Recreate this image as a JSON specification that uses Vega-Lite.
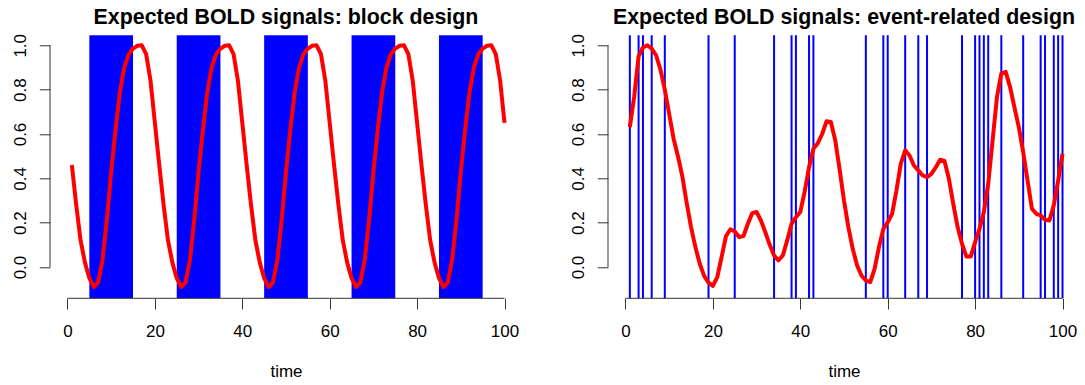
{
  "$schema": "https://vega.github.io/schema/vega-lite/v6.json",
  "background": "white",
  "padding": {"left": 11, "top": 6.3, "right": 0, "bottom": 0},
  "datasets": {
    "blocks": [
      {"start": 5, "end": 15}, {"start": 25, "end": 35}, {"start": 45, "end": 55}, {"start": 65, "end": 75}, {"start": 85, "end": 95}
    ],
    "blocksignal": [
      {"t":1,"y":0.46},{"t":2,"y":0.28},{"t":3,"y":0.12},{"t":4,"y":0.02},{"t":5,"y":-0.05},{"t":6,"y":-0.09},{"t":7,"y":-0.07},{"t":8,"y":0.03},{"t":9,"y":0.21},{"t":10,"y":0.43},
      {"t":11,"y":0.62},{"t":12,"y":0.79},{"t":13,"y":0.9},{"t":14,"y":0.96},{"t":15,"y":0.985},{"t":16,"y":0.998},{"t":17,"y":1.0},{"t":18,"y":0.96},{"t":19,"y":0.84},{"t":20,"y":0.65},
      {"t":21,"y":0.46},{"t":22,"y":0.28},{"t":23,"y":0.12},{"t":24,"y":0.02},{"t":25,"y":-0.05},{"t":26,"y":-0.09},{"t":27,"y":-0.07},{"t":28,"y":0.03},{"t":29,"y":0.21},{"t":30,"y":0.43},
      {"t":31,"y":0.62},{"t":32,"y":0.79},{"t":33,"y":0.9},{"t":34,"y":0.96},{"t":35,"y":0.985},{"t":36,"y":0.998},{"t":37,"y":1.0},{"t":38,"y":0.96},{"t":39,"y":0.84},{"t":40,"y":0.65},
      {"t":41,"y":0.46},{"t":42,"y":0.28},{"t":43,"y":0.12},{"t":44,"y":0.02},{"t":45,"y":-0.05},{"t":46,"y":-0.09},{"t":47,"y":-0.07},{"t":48,"y":0.03},{"t":49,"y":0.21},{"t":50,"y":0.43},
      {"t":51,"y":0.62},{"t":52,"y":0.79},{"t":53,"y":0.9},{"t":54,"y":0.96},{"t":55,"y":0.985},{"t":56,"y":0.998},{"t":57,"y":1.0},{"t":58,"y":0.96},{"t":59,"y":0.84},{"t":60,"y":0.65},
      {"t":61,"y":0.46},{"t":62,"y":0.28},{"t":63,"y":0.12},{"t":64,"y":0.02},{"t":65,"y":-0.05},{"t":66,"y":-0.09},{"t":67,"y":-0.07},{"t":68,"y":0.03},{"t":69,"y":0.21},{"t":70,"y":0.43},
      {"t":71,"y":0.62},{"t":72,"y":0.79},{"t":73,"y":0.9},{"t":74,"y":0.96},{"t":75,"y":0.985},{"t":76,"y":0.998},{"t":77,"y":1.0},{"t":78,"y":0.96},{"t":79,"y":0.84},{"t":80,"y":0.65},
      {"t":81,"y":0.46},{"t":82,"y":0.28},{"t":83,"y":0.12},{"t":84,"y":0.02},{"t":85,"y":-0.05},{"t":86,"y":-0.09},{"t":87,"y":-0.07},{"t":88,"y":0.03},{"t":89,"y":0.21},{"t":90,"y":0.43},
      {"t":91,"y":0.62},{"t":92,"y":0.79},{"t":93,"y":0.9},{"t":94,"y":0.96},{"t":95,"y":0.985},{"t":96,"y":0.998},{"t":97,"y":1.0},{"t":98,"y":0.96},{"t":99,"y":0.84},{"t":100,"y":0.65}
    ],
    "events": [
      {"t":1},{"t":3},{"t":4},{"t":6},{"t":9},{"t":19},{"t":25},{"t":34},{"t":38},{"t":39},{"t":42},{"t":43},{"t":55},{"t":59},{"t":60},
      {"t":64},{"t":67},{"t":69},{"t":77},{"t":80},{"t":81},{"t":82},{"t":83},{"t":86},{"t":91},{"t":95},{"t":96},{"t":98},{"t":99},{"t":100}
    ],
    "eventsignal": [
      {"t":1,"y":0.631},{"t":2,"y":0.77},{"t":3,"y":0.95},{"t":4,"y":0.99},{"t":5,"y":1.0},{"t":6,"y":0.985},{"t":7,"y":0.955},{"t":8,"y":0.89},{"t":9,"y":0.8},{"t":10,"y":0.69},
      {"t":11,"y":0.58},{"t":12,"y":0.5},{"t":13,"y":0.41},{"t":14,"y":0.29},{"t":15,"y":0.18},{"t":16,"y":0.09},{"t":17,"y":0.015},{"t":18,"y":-0.04},{"t":19,"y":-0.07},{"t":20,"y":-0.085},
      {"t":21,"y":-0.045},{"t":22,"y":0.045},{"t":23,"y":0.14},{"t":24,"y":0.17},{"t":25,"y":0.16},{"t":26,"y":0.135},{"t":27,"y":0.14},{"t":28,"y":0.195},{"t":29,"y":0.243},{"t":30,"y":0.248},
      {"t":31,"y":0.21},{"t":32,"y":0.157},{"t":33,"y":0.1},{"t":34,"y":0.052},{"t":35,"y":0.03},{"t":36,"y":0.052},{"t":37,"y":0.12},{"t":38,"y":0.195},{"t":39,"y":0.225},{"t":40,"y":0.248},
      {"t":41,"y":0.34},{"t":42,"y":0.45},{"t":43,"y":0.533},{"t":44,"y":0.558},{"t":45,"y":0.6},{"t":46,"y":0.657},{"t":47,"y":0.654},{"t":48,"y":0.571},{"t":49,"y":0.44},{"t":50,"y":0.3},
      {"t":51,"y":0.18},{"t":52,"y":0.082},{"t":53,"y":0.007},{"t":54,"y":-0.038},{"t":55,"y":-0.061},{"t":56,"y":-0.068},{"t":57,"y":-0.008},{"t":58,"y":0.09},{"t":59,"y":0.172},{"t":60,"y":0.202},
      {"t":61,"y":0.24},{"t":62,"y":0.345},{"t":63,"y":0.466},{"t":64,"y":0.526},{"t":65,"y":0.503},{"t":66,"y":0.458},{"t":67,"y":0.436},{"t":68,"y":0.413},{"t":69,"y":0.405},{"t":70,"y":0.42},
      {"t":71,"y":0.45},{"t":72,"y":0.484},{"t":73,"y":0.478},{"t":74,"y":0.398},{"t":75,"y":0.285},{"t":76,"y":0.18},{"t":77,"y":0.105},{"t":78,"y":0.047},{"t":79,"y":0.047},{"t":80,"y":0.112},
      {"t":81,"y":0.172},{"t":82,"y":0.248},{"t":83,"y":0.375},{"t":84,"y":0.571},{"t":85,"y":0.767},{"t":86,"y":0.872},{"t":87,"y":0.88},{"t":88,"y":0.812},{"t":89,"y":0.72},{"t":90,"y":0.631},
      {"t":91,"y":0.518},{"t":92,"y":0.39},{"t":93,"y":0.263},{"t":94,"y":0.24},{"t":95,"y":0.233},{"t":96,"y":0.213},{"t":97,"y":0.21},{"t":98,"y":0.278},{"t":99,"y":0.39},{"t":100,"y":0.51}
    ],
    "one": [{}]
  },
  "hconcat": [
    {
      "width": 472,
      "height": 263,
      "title": "Expected BOLD signals: block design",
      "layer": [
        {
          "data": {"name": "blocks"},
          "mark": {"type": "rect", "color": "#0000FF"},
          "encoding": {
            "x": {"field": "start", "type": "quantitative", "title": "time", "scale": {"domain": [-4, 104], "nice": false, "zero": false}, "axis": {"values": [0, 20, 40, 60, 80, 100]}},
            "x2": {"field": "end"},
            "y": {"datum": 1.045, "type": "quantitative", "title": null, "scale": {"domain": [-0.141, 1.045], "nice": false, "zero": false}, "axis": {"values": [0, 0.2, 0.4, 0.6, 0.8, 1.0], "format": ".1f"}},
            "y2": {"datum": -0.141}
          }
        },
        {
          "data": {"name": "blocksignal"},
          "mark": {"type": "line", "color": "#FF0000", "strokeWidth": 4, "strokeJoin": "round"},
          "encoding": {
            "x": {"field": "t", "type": "quantitative", "title": "time", "axis": {"values": [0, 20, 40, 60, 80, 100]}},
            "y": {"field": "y", "type": "quantitative", "title": null, "axis": {"values": [0, 0.2, 0.4, 0.6, 0.8, 1.0], "format": ".1f"}}
          }
        },
        {
          "data": {"name": "one"},
          "mark": {"type": "rule", "color": "#333333", "strokeWidth": 1},
          "encoding": {
            "x": {"datum": -4, "type": "quantitative", "title": "time", "axis": {"values": [0, 20, 40, 60, 80, 100]}},
            "y": {"datum": 0, "type": "quantitative", "title": null, "axis": {"values": [0, 0.2, 0.4, 0.6, 0.8, 1.0], "format": ".1f"}},
            "y2": {"datum": 1}
          }
        },
        {
          "data": {"name": "one"},
          "mark": {"type": "rule", "color": "#333333", "strokeWidth": 1},
          "encoding": {
            "x": {"datum": 0, "type": "quantitative", "title": "time", "axis": {"values": [0, 20, 40, 60, 80, 100]}},
            "x2": {"datum": 100},
            "y": {"datum": -0.141, "type": "quantitative", "title": null, "axis": {"values": [0, 0.2, 0.4, 0.6, 0.8, 1.0], "format": ".1f"}}
          }
        }
      ]
    },
    {
      "width": 472,
      "height": 263,
      "title": "Expected BOLD signals: event-related design",
      "layer": [
        {
          "data": {"name": "events"},
          "mark": {"type": "rule", "color": "#0000FF", "strokeWidth": 2},
          "encoding": {
            "x": {"field": "t", "type": "quantitative", "title": "time", "scale": {"domain": [-4, 104], "nice": false, "zero": false}, "axis": {"values": [0, 20, 40, 60, 80, 100]}}
          }
        },
        {
          "data": {"name": "eventsignal"},
          "mark": {"type": "line", "color": "#FF0000", "strokeWidth": 4, "strokeJoin": "round"},
          "encoding": {
            "x": {"field": "t", "type": "quantitative", "title": "time", "axis": {"values": [0, 20, 40, 60, 80, 100]}},
            "y": {"field": "y", "type": "quantitative", "title": null, "scale": {"domain": [-0.141, 1.045], "nice": false, "zero": false}, "axis": {"values": [0, 0.2, 0.4, 0.6, 0.8, 1.0], "format": ".1f"}}
          }
        },
        {
          "data": {"name": "one"},
          "mark": {"type": "rule", "color": "#333333", "strokeWidth": 1},
          "encoding": {
            "x": {"datum": -4, "type": "quantitative", "title": "time", "axis": {"values": [0, 20, 40, 60, 80, 100]}},
            "y": {"datum": 0, "type": "quantitative", "title": null, "axis": {"values": [0, 0.2, 0.4, 0.6, 0.8, 1.0], "format": ".1f"}},
            "y2": {"datum": 1}
          }
        },
        {
          "data": {"name": "one"},
          "mark": {"type": "rule", "color": "#333333", "strokeWidth": 1},
          "encoding": {
            "x": {"datum": 0, "type": "quantitative", "title": "time", "axis": {"values": [0, 20, 40, 60, 80, 100]}},
            "x2": {"datum": 100},
            "y": {"datum": -0.141, "type": "quantitative", "title": null, "axis": {"values": [0, 0.2, 0.4, 0.6, 0.8, 1.0], "format": ".1f"}}
          }
        }
      ]
    }
  ],
  "config": {
    "view": {"stroke": null},
    "font": "Liberation Sans",
    "concat": {"spacing": 47},
    "axis": {
      "grid": false, "domain": false, "tickColor": "#333333", "tickSize": 10.7, "tickWidth": 1,
      "labelFont": "Liberation Sans", "labelFontSize": 17, "labelColor": "#000000",
      "labelFlush": false, "labelOverlap": false, "labelBound": false,
      "titleFont": "Liberation Sans", "titleFontSize": 17, "titleFontWeight": "normal", "titleColor": "#000000"
    },
    "axisX": {"labelAngle": 0, "labelBaseline": "alphabetic", "labelPadding": 27.5, "titlePadding": 24},
    "axisY": {"labelAngle": -90, "labelAlign": "center", "labelBaseline": "alphabetic", "labelPadding": 14},
    "title": {"font": "Liberation Sans", "fontSize": 21.4, "fontWeight": "bold", "color": "#000000", "anchor": "middle", "frame": "group", "baseline": "alphabetic", "offset": 5.4}
  }
}
